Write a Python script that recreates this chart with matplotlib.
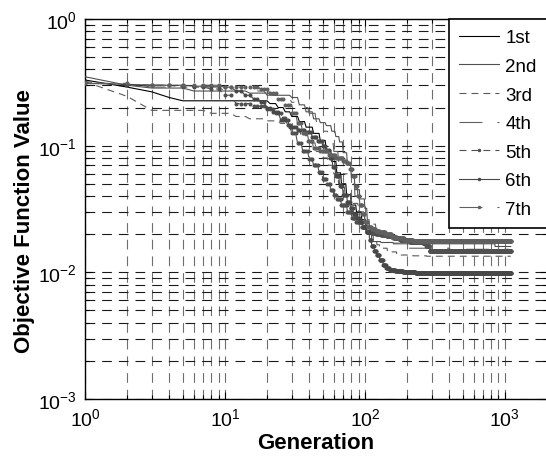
import numpy as np
import matplotlib
matplotlib.use("Agg")
import matplotlib.pyplot as plt
from matplotlib.lines import Line2D

plt.rcParams['font.family'] = ['Liberation Sans', 'DejaVu Sans']
plt.rcParams['mathtext.fontset'] = 'custom'
plt.rcParams['mathtext.rm'] = 'Liberation Sans'
plt.rcParams['lines.scale_dashes'] = False

# Best objective value per run: generation at which it improved, and the new value
labels = ['1st', '2nd', '3rd', '4th', '5th', '6th', '7th']

gen_1st = [1, 2, 3, 4, 5, 18, 21, 24, 27, 30, 34, 38, 43, 48, 53, 58, 63, 68, 74, 80,
           87, 95, 102, 110, 125, 140, 165, 190]
val_1st = [.33, .29, .266, .24, .226, .226, .215, .20, .185, .17, .155, .14, .125, .11, .092,
           .075, .061, .05, .041, .034, .03, .026, .023, .021, .02, .019, .018, .0177]

gen_2nd = [1, 2, 3, 6, 15, 22, 30, 34, 38, 43, 48, 53, 58, 62, 66, 70, 75, 80, 85, 92,
           100, 104, 108, 112, 130, 160, 850]
val_2nd = [.35, .30, .285, .27, .26, .25, .24, .21, .185, .163, .152, .144, .13, .118, .107,
           .088, .07, .056, .045, .038, .032, .026, .021, .0175, .0172, .0168, .016]

gen_3rd = [1, 2, 3, 8, 12, 15, 20, 25, 30, 35, 40, 45, 50, 55, 60, 65, 72, 80, 90, 100,
           108, 115, 122, 128, 145, 169, 220, 276]
val_3rd = [.32, .245, .19, .18, .17, .163, .157, .15, .135, .12, .105, .09, .08, .07, .06,
           .05, .042, .035, .03, .025, .021, .018, .0165, .0155, .0145, .0137, .0135, .0134]

gen_4th = [1, 3, 10, 20, 25, 30, 35, 40, 45, 50, 55, 60, 65, 70, 77, 85, 92, 100, 110,
           120, 135, 150, 175, 200, 400]
val_4th = [.31, .29, .27, .25, .235, .22, .20, .18, .155, .13, .11, .09, .074, .06, .05,
           .04, .033, .028, .024, .021, .019, .017, .016, .0155, .0152]

gen_5th = [1, 2, 5, 8, 10, 12, 16, 20, 23, 26, 28, 30, 33, 36, 40, 43, 47, 50, 54, 57,
           60, 63, 68, 75, 81, 87, 95, 103, 112, 120, 130, 143, 160, 178, 210, 260, 275, 290]
val_5th = [.32, .30, .29, .28, .25, .215, .205, .195, .18, .165, .145, .125, .105, .09,
           .078, .07, .062, .055, .05, .045, .041, .038, .034, .03, .027, .025, .023, .021,
           .0203, .020, .0197, .0193, .0187, .018, .0175, .017, .016, .0147]

gen_6th = [1, 2, 3, 6, 10, 12, 14, 16, 18, 20, 22, 25, 29, 33, 38, 42, 46, 50, 53, 56,
           59, 62, 66, 70, 75, 79, 83, 88, 92, 97, 103, 108, 112, 117, 122, 128, 135, 142,
           150, 165, 187, 230]
val_6th = [.31, .305, .30, .295, .29, .27, .25, .235, .22, .20, .185, .16, .14, .133, .128,
           .118, .108, .10, .093, .08, .068, .058, .048, .041, .036, .032, .029, .027, .025,
           .023, .021, .018, .016, .0148, .0136, .0125, .0115, .0109, .0104, .0102, .0100, .0098]

gen_7th = [1, 3, 10, 18, 21, 24, 27, 30, 33, 36, 39, 43, 48, 55, 62, 70, 74, 78, 82, 86,
           89, 92, 96, 100, 105, 112, 120, 128, 140, 155, 169, 190, 220]
val_7th = [.31, .30, .29, .28, .26, .235, .21, .18, .15, .125, .108, .095, .09, .085, .08,
           .076, .073, .065, .058, .048, .04, .034, .029, .025, .023, .022, .0213, .021, .02,
           .019, .0185, .018, .0177]

n_generations = 1100

runs = [(gen_1st, val_1st), (gen_2nd, val_2nd), (gen_3rd, val_3rd), (gen_4th, val_4th),
        (gen_5th, val_5th), (gen_6th, val_6th), (gen_7th, val_7th)]

styles = [
    dict(color='#000000', lw=0.8, dashes=()),
    dict(color='#505050', lw=0.8, dashes=()),
    dict(color='#5a5a5a', lw=0.8, dashes=(5, 3.6)),
    dict(color='#606060', lw=0.8, dashes=(16.5, 10.8, 3.6, 10.8)),
    dict(color='#505050', lw=0.8, dashes=(5, 3.6), marker='.', ms=3.8),
    dict(color='#484848', lw=0.8, dashes=(), marker='.', ms=3.8),
    dict(color='#606060', lw=0.8, dashes=(16.5, 10.8, 3.6, 10.8), marker='.', ms=3.8),
]

fig = plt.figure(figsize=(5.46, 4.64), dpi=100)
ax = fig.add_axes([85 / 546, 1 - 400 / 464, 462 / 546, 380 / 464])

generations = np.arange(1, n_generations + 1)
handles = []
for (g, v), st, lab in zip(runs, styles, labels):
    g = np.asarray(g)
    v = np.asarray(v)
    # best-so-far value held between improvements
    best = v[np.searchsorted(g, generations, side='right') - 1]
    kw = dict(color=st['color'], lw=st['lw'])
    if st['dashes']:
        kw['dashes'] = st['dashes']
    else:
        kw['linestyle'] = '-'
    line_kw = dict(kw)
    if 'marker' in st:
        line_kw.update(marker=st['marker'], ms=st['ms'], mec=st['color'], mfc=st['color'])
    ax.plot(generations, best, zorder=3, **line_kw)
    h_kw = dict(kw)
    if 'marker' in st:
        h_kw.update(marker='.', ms=3, mec=st['color'], mfc=st['color'])
    handles.append(Line2D([], [], label=lab, **h_kw))

ax.set_xscale('log')
ax.set_yscale('log')
ax.set_xlim(1, 2000)
ax.set_ylim(1e-3, 1)

ax.xaxis.grid(True, which='both', color='#6e6e6e', lw=0.8, dashes=(7, 5))
ax.yaxis.grid(True, which='both', color='#1a1a1a', lw=0.8, dashes=(7, 5))
ax.set_axisbelow(True)

ax.tick_params(which='both', direction='in', top=True, right=True, width=0.8)
ax.tick_params(which='major', length=5, labelsize=14, pad=6)
ax.tick_params(which='minor', length=3)
for s in ax.spines.values():
    s.set_linewidth(1.0)

ax.set_xlabel('Generation', fontsize=16, fontweight='bold', labelpad=2)
ax.set_ylabel('Objective Function Value', fontsize=16, fontweight='bold')
ax.yaxis.set_label_coords(-0.108, 0.47)

leg = ax.legend(handles=handles, loc='upper right', bbox_to_anchor=(1, 1),
                borderaxespad=0, fontsize=13.5, numpoints=1, handlelength=2.1,
                handletextpad=0.35, labelspacing=0.61, borderpad=0.55,
                fancybox=False, framealpha=1, edgecolor='black')
leg.get_frame().set_linewidth(1.2)

fig.savefig('out.png', dpi=100)
